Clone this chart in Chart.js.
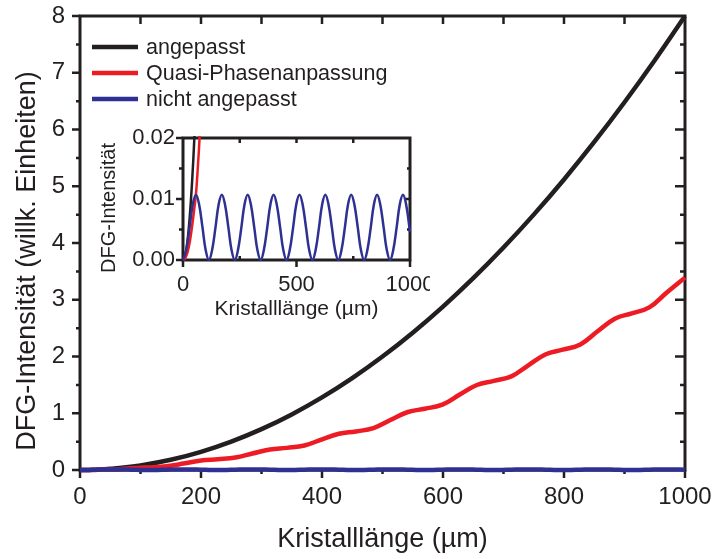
<!DOCTYPE html>
<html>
<head>
<meta charset="utf-8">
<script src="https://cdn.jsdelivr.net/npm/chart.js@4.4.0/dist/chart.umd.min.js"></script>
<style>
  html, body { margin: 0; padding: 0; background: #fff; }
  #wrap { position: relative; width: 713px; height: 559px; }
  #mainChart { position: absolute; left: 0; top: 0; }
  #insetChart { position: absolute; left: 100px; top: 125px; }
</style>
</head>
<body>
<div id="wrap">
  <canvas id="mainChart" width="713" height="559" style="width:713px;height:559px"></canvas>
  <canvas id="insetChart" width="330" height="200" style="width:330px;height:200px"></canvas>
</div>
<script>
// Data (crystal length in µm, DFG intensity in arb. units)
const seriesLabels = ['angepasst', 'Quasi-Phasenanpassung', 'nicht angepasst'];

const blackX = [0, 10, 20, 30, 40, 50, 60, 100, 150, 200, 250, 300, 350, 400, 450, 500,
  550, 600, 650, 700, 750, 800, 850, 900, 950, 1000];
const blackY = [0, 0.0008, 0.0032, 0.0072, 0.0128, 0.02, 0.029, 0.08, 0.18, 0.32, 0.5, 0.72,
  0.98, 1.28, 1.62, 2.0, 2.42, 2.88, 3.38, 3.92, 4.5, 5.12, 5.78, 6.48, 7.22, 8.0];

const redX = [0, 10, 20, 30, 40, 50, 57, 65, 73, 85, 100, 114, 143, 171, 200, 228, 257, 285,
  314, 342, 371, 399, 428, 456, 485, 513, 542, 570, 599, 627, 656, 684, 713, 741, 770, 798,
  827, 855, 884, 912, 941, 969, 1000];
const redY = [0, 0.0003, 0.0013, 0.003, 0.0055, 0.0085, 0.0107, 0.015, 0.02, 0.029, 0.04,
  0.045, 0.066, 0.113, 0.169, 0.19, 0.219, 0.29, 0.361, 0.39, 0.432, 0.535, 0.638, 0.68,
  0.738, 0.88, 1.022, 1.08, 1.152, 1.325, 1.498, 1.57, 1.65, 1.845, 2.04, 2.12, 2.213, 2.44,
  2.667, 2.76, 2.865, 3.12, 3.39];

const blueX = [0, 14, 29, 43, 57, 71, 86, 100,
  114, 128, 143, 157, 171, 185, 200, 214,
  228, 242, 257, 271, 285, 299, 314, 328,
  342, 356, 371, 385, 399, 413, 428, 442,
  456, 470, 485, 499, 513, 527, 542, 556,
  570, 584, 599, 613, 627, 641, 656, 670,
  684, 698, 713, 727, 741, 755, 770, 784,
  798, 812, 827, 841, 855, 869, 884, 898,
  912, 926, 941, 955, 969, 983, 1000];
const blueY = [0, 0.0016, 0.0053, 0.0091, 0.0107, 0.0091, 0.0053, 0.0016,
  0, 0.0016, 0.0053, 0.0091, 0.0107, 0.0091, 0.0053, 0.0016,
  0, 0.0016, 0.0053, 0.0091, 0.0107, 0.0091, 0.0053, 0.0016,
  0, 0.0016, 0.0053, 0.0091, 0.0107, 0.0091, 0.0053, 0.0016,
  0, 0.0016, 0.0053, 0.0091, 0.0107, 0.0091, 0.0053, 0.0016,
  0, 0.0016, 0.0053, 0.0091, 0.0107, 0.0091, 0.0053, 0.0016,
  0, 0.0016, 0.0053, 0.0091, 0.0107, 0.0091, 0.0053, 0.0016,
  0, 0.0016, 0.0053, 0.0091, 0.0107, 0.0091, 0.0053, 0.0016,
  0, 0.0016, 0.0053, 0.0091, 0.0107, 0.0091, 0.0046];

const mainXTicks = [0, 200, 400, 600, 800, 1000];
const mainYTicks = [0, 1, 2, 3, 4, 5, 6, 7, 8];
const insetXTicks = [0, 500, 1000];
const insetYTicks = [0, 0.01, 0.02];

const ink = '#231f20';
const colors = ['#231f20', '#ed1c24', '#2e3192'];
const fam = '"Liberation Sans", Arial, sans-serif';

Chart.defaults.font.family = fam;
Chart.defaults.color = ink;

function pts(xs, ys) {
  return xs.map((x, i) => ({ x: x, y: ys[i] }));
}

function makeDatasets(width, clip) {
  return [
    { label: seriesLabels[0], data: pts(blackX, blackY), borderColor: colors[0], borderWidth: width, order: 2, clip: clip },
    { label: seriesLabels[1], data: pts(redX, redY), borderColor: colors[1], borderWidth: width, order: 1, clip: clip },
    { label: seriesLabels[2], data: pts(blueX, blueY), borderColor: colors[2], borderWidth: width, order: 0, clip: clip }
  ];
}

// frame around the plot plus in/out tick marks on all four sides (drawn under the curves)
function framePlugin(cfg) {
  return {
    id: 'frame',
    beforeDatasetsDraw(chart) {
      const { ctx, chartArea: a, scales: { x, y } } = chart;
      ctx.save();
      ctx.strokeStyle = ink;
      ctx.lineWidth = cfg.tickWidth;
      ctx.beginPath();
      cfg.xTicks.forEach(t => {
        const px = x.getPixelForValue(t.v);
        if (t.bottom) { ctx.moveTo(px, a.bottom); ctx.lineTo(px, a.bottom + t.bottom); }
        if (t.top) { ctx.moveTo(px, a.top); ctx.lineTo(px, a.top + t.top); }
      });
      cfg.yTicks.forEach(t => {
        const py = y.getPixelForValue(t.v);
        if (t.left) { ctx.moveTo(a.left, py); ctx.lineTo(a.left - t.left, py); }
        if (t.right) { ctx.moveTo(a.right, py); ctx.lineTo(a.right - t.right, py); }
      });
      ctx.stroke();
      ctx.lineWidth = cfg.frameWidth;
      ctx.strokeRect(a.left, a.top, a.right - a.left, a.bottom - a.top);
      ctx.restore();
    },
    afterDraw(chart) {
      if (!cfg.yTitle) return;
      const ctx = chart.ctx;
      ctx.save();
      ctx.fillStyle = ink;
      ctx.font = cfg.yTitle.size + 'px ' + fam;
      ctx.textAlign = 'center';
      ctx.textBaseline = 'alphabetic';
      ctx.translate(cfg.yTitle.x, cfg.yTitle.y);
      ctx.rotate(-Math.PI / 2);
      ctx.fillText(cfg.yTitle.text, 0, 0);
      ctx.restore();
    }
  };
}

const legendPlugin = {
  id: 'innerLegend',
  afterDraw(chart) {
    const ctx = chart.ctx;
    ctx.save();
    ctx.font = '21.5px ' + fam;
    ctx.textBaseline = 'middle';
    ctx.fillStyle = ink;
    chart.data.datasets.forEach((ds, i) => {
      const yy = 47 + i * 26;
      ctx.strokeStyle = ds.borderColor;
      ctx.lineWidth = 4.5;
      ctx.beginPath();
      ctx.moveTo(92, yy);
      ctx.lineTo(138, yy);
      ctx.stroke();
      ctx.fillText(ds.label, 146, yy + 1);
    });
    ctx.restore();
  }
};

const mainXMarks = [];
for (let v = 0; v <= 1000; v += 100) {
  mainXMarks.push({ v: v, bottom: v % 200 === 0 ? 8 : 4, top: (v > 0 && v < 1000) ? 8 : 0 });
}
const mainYMarks = [];
for (let v = 0; v <= 8; v += 0.5) {
  const major = Number.isInteger(v);
  mainYMarks.push({ v: v, left: major ? 8 : 4, right: (v > 0 && v < 8) ? (major ? 10 : 5) : 0 });
}

new Chart(document.getElementById('mainChart'), {
  type: 'line',
  data: { datasets: makeDatasets(4.5, false) },
  options: {
    responsive: false,
    animation: false,
    events: [],
    elements: { point: { radius: 0 }, line: { tension: 0.4 } },
    layout: { padding: 0 },
    plugins: { legend: { display: false }, tooltip: { enabled: false } },
    scales: {
      x: {
        type: 'linear', min: 0, max: 1000,
        grid: { display: false, drawTicks: false },
        border: { display: false },
        afterBuildTicks: s => { s.ticks = mainXTicks.map(v => ({ value: v })); },
        ticks: { font: { size: 24 }, padding: 13, maxRotation: 0, callback: v => String(v) },
        title: { display: true, text: 'Kristalllänge (µm)', font: { size: 27 }, padding: { top: 0, bottom: 3 } },
        afterFit: s => { s.height = 89; s.paddingLeft = 0; s.paddingRight = 28; }
      },
      y: {
        type: 'linear', min: 0, max: 8,
        grid: { display: false, drawTicks: false },
        border: { display: false },
        afterBuildTicks: s => { s.ticks = mainYTicks.map(v => ({ value: v })); },
        ticks: { font: { size: 24 }, padding: 15, callback: v => String(v) },
        afterFit: s => { s.width = 80; s.paddingTop = 16; s.paddingBottom = 0; }
      }
    }
  },
  plugins: [framePlugin({
    frameWidth: 3, tickWidth: 2.5, xTicks: mainXMarks, yTicks: mainYMarks,
    yTitle: { text: 'DFG-Intensität (willk. Einheiten)', size: 27, x: 35, y: 261 }
  }), legendPlugin]
});

const insetXMarks = [
  { v: 0, bottom: 7 }, { v: 250, bottom: -4, top: 5 }, { v: 500, bottom: 7, top: 5 },
  { v: 750, bottom: -4, top: 5 }, { v: 1000, bottom: 7 }
];
const insetYMarks = [
  { v: 0, left: 7 }, { v: 0.005, left: 4, right: 3 }, { v: 0.01, left: 7, right: 5 },
  { v: 0.015, left: 4, right: 3 }, { v: 0.02, left: 7 }
];

new Chart(document.getElementById('insetChart'), {
  type: 'line',
  data: { datasets: makeDatasets(2.5, 2) },
  options: {
    responsive: false,
    animation: false,
    events: [],
    elements: { point: { radius: 0 }, line: { tension: 0.4 } },
    layout: { padding: 0 },
    plugins: { legend: { display: false }, tooltip: { enabled: false } },
    scales: {
      x: {
        type: 'linear', min: 0, max: 1000,
        grid: { display: false, drawTicks: false },
        border: { display: false },
        afterBuildTicks: s => { s.ticks = insetXTicks.map(v => ({ value: v })); },
        ticks: { font: { size: 22 }, padding: 12, maxRotation: 0, callback: v => String(v) },
        title: { display: true, text: 'Kristalllänge (µm)', font: { size: 21 }, padding: { top: 0, bottom: 3 } },
        afterFit: s => { s.height = 65; s.paddingLeft = 0; s.paddingRight = 20; }
      },
      y: {
        type: 'linear', min: 0, max: 0.02,
        grid: { display: false, drawTicks: false },
        border: { display: false },
        afterBuildTicks: s => { s.ticks = insetYTicks.map(v => ({ value: v })); },
        ticks: { font: { size: 22 }, padding: 8, callback: v => v.toFixed(2) },
        afterFit: s => { s.width = 83; s.paddingTop = 13; s.paddingBottom = 0; }
      }
    }
  },
  plugins: [framePlugin({
    frameWidth: 3, tickWidth: 2.5, xTicks: insetXMarks, yTicks: insetYMarks,
    yTitle: { text: 'DFG-Intensität', size: 20, x: 15, y: 83 }
  })]
});
</script>
</body>
</html>
